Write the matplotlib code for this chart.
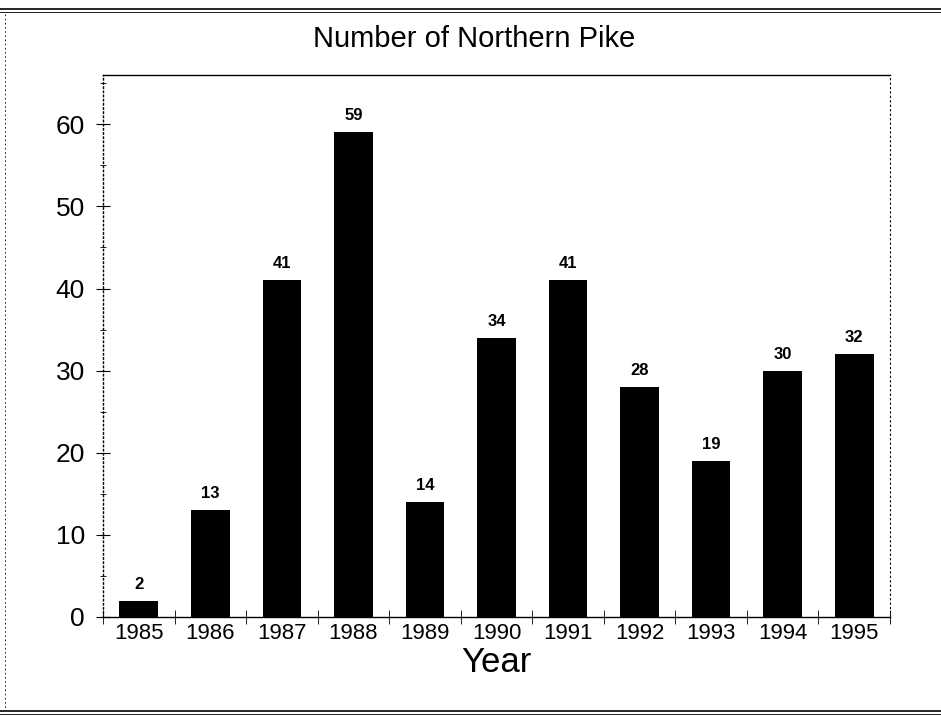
import matplotlib
matplotlib.use("Agg")
import matplotlib.pyplot as plt
from matplotlib.ticker import MultipleLocator, FixedLocator

years = ["1985", "1986", "1987", "1988", "1989", "1990",
         "1991", "1992", "1993", "1994", "1995"]
counts = [2, 13, 41, 59, 14, 34, 41, 28, 19, 30, 32]

plt.rcParams['font.family'] = ['Liberation Sans', 'DejaVu Sans']

fig = plt.figure(figsize=(9.41, 7.17), dpi=100)
ax = fig.add_axes([103/941, 1-617/717, 787/941, 542/717])

x = list(range(len(years)))
ax.bar(x, counts, width=0.54, color='black')
for xi, c in zip(x, counts):
    ax.text(xi, c + 1.1, str(c), ha='center', va='bottom',
            fontsize=12, fontweight='bold')

ax.set_xlim(-0.5, 10.5)
ax.set_ylim(0, 66)
ax.set_xticks(x)
ax.set_xticklabels(years, fontsize=16)
ax.xaxis.set_minor_locator(FixedLocator([i + 0.5 for i in range(-1, 11)]))
ax.tick_params(axis='x', which='major', length=0, pad=4)
ax.tick_params(axis='x', which='minor', direction='inout', length=10)
ax.yaxis.set_major_locator(MultipleLocator(10))
ax.yaxis.set_minor_locator(MultipleLocator(5))
ax.tick_params(axis='y', which='major', direction='inout', length=10,
               labelsize=19, pad=8)
ax.tick_params(axis='y', which='minor', direction='inout', length=5)
ax.set_xlabel("Year", fontsize=25, labelpad=2)

for s in ['top', 'left', 'bottom']:
    ax.spines[s].set_linewidth(1.0)
ax.spines['right'].set_linestyle((0, (1, 3)))
ax.spines['right'].set_linewidth(0.8)
ax.spines['left'].set_linestyle((0, (1, 2)))

fig.text(474/941, 1-39/717, "Number of Northern Pike", ha='center',
         va='center', fontsize=21)

# page frame lines
fig.add_artist(plt.Line2D([0, 1], [1-9/717, 1-9/717], color='black', lw=1.2))
fig.add_artist(plt.Line2D([0, 1], [1-12/717, 1-12/717], color='black', lw=0.6))
fig.add_artist(plt.Line2D([0, 1], [1-711/717, 1-711/717], color='black', lw=1.2))
fig.add_artist(plt.Line2D([0, 1], [1-714/717, 1-714/717], color='black', lw=0.6))
fig.add_artist(plt.Line2D([5/941, 5/941], [1-14/717, 1-709/717],
                          color='black', lw=0.6, linestyle=(0, (2, 3))))

fig.savefig("out.png", dpi=100)
